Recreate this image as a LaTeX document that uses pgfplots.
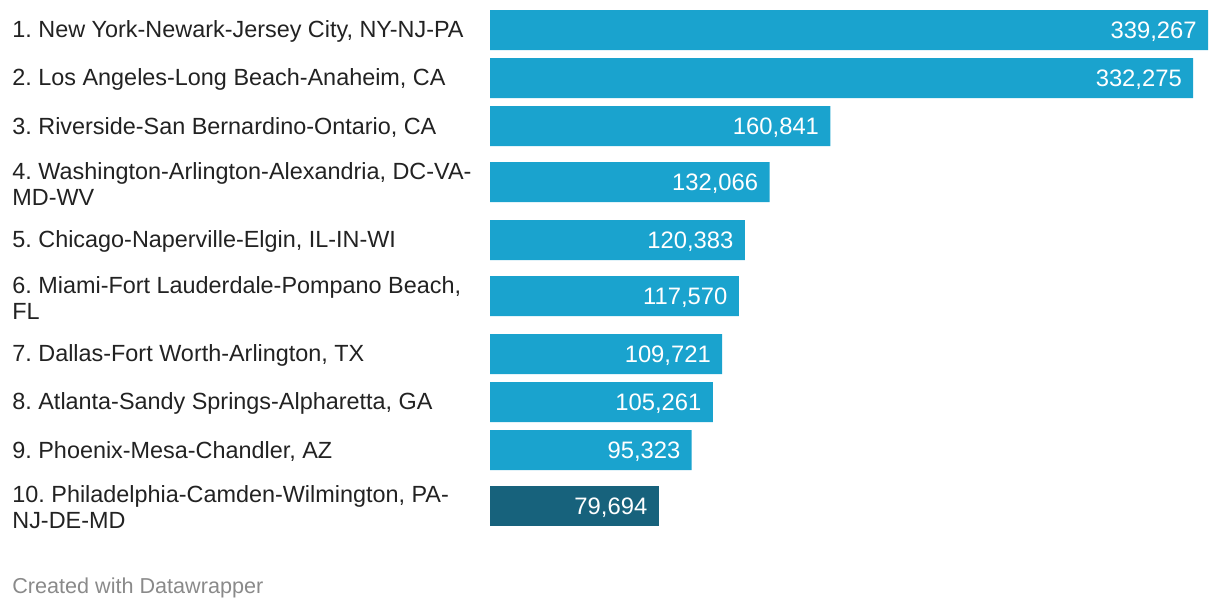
\documentclass[border=0pt]{standalone}
\usepackage{pgfplots}
\pgfplotsset{compat=1.18}
\usepackage{fontspec}
\setmainfont{Liberation Sans}
\frenchspacing

\definecolor{barblue}{HTML}{1AA3CE}
\definecolor{bardark}{HTML}{17627C}
\definecolor{labeltext}{HTML}{222222}
\definecolor{foot}{HTML}{8A8A8A}

\begin{document}
\begin{tikzpicture}
\useasboundingbox (0pt,0pt) rectangle (610pt,306pt);
\begin{axis}[
    at={(245pt,306pt)}, anchor=north west,
    scale only axis,
    width=359pt, height=306pt,
    xmin=0, xmax=339267,
    ymin=0, ymax=612, y dir=reverse,
    axis line style={draw=none},
    major tick style={draw=none},
    xtick=\empty,
    ytick={30,78,126,182,240,296,354,402,450,506},
    yticklabels={
        {1. New York-Newark-Jersey City, NY-NJ-PA},
        {2. Los Angeles-Long Beach-Anaheim, CA},
        {3. Riverside-San Bernardino-Ontario, CA},
        {4. Washington-Arlington-Alexandria, DC-VA-\\MD-WV},
        {5. Chicago-Naperville-Elgin, IL-IN-WI},
        {6. Miami-Fort Lauderdale-Pompano Beach,\\FL},
        {7. Dallas-Fort Worth-Arlington, TX},
        {8. Atlanta-Sandy Springs-Alpharetta, GA},
        {9. Phoenix-Mesa-Chandler, AZ},
        {10. Philadelphia-Camden-Wilmington, PA-\\NJ-DE-MD}},
    yticklabel style={anchor=west, xshift=-239pt, yshift=-0.8pt, align=left, inner sep=0pt,
        text=labeltext, font=\fontsize{11.7}{13}\selectfont},
    bar width=20pt,
    point meta=x,
    nodes near coords={\pgfmathprintnumber[fixed,precision=0,1000 sep={,},assume math mode=true]{\pgfplotspointmeta}},
    nodes near coords style={anchor=east, xshift=-5.5pt, yshift=-0.8pt, inner sep=0pt,
        text=white, font=\fontsize{11.9}{13}\selectfont},
    clip=false,
]
% top nine areas
\addplot[xbar, bar shift=0pt, fill=barblue, draw=none] coordinates {
    (339267,30) (332275,78) (160841,126) (132066,182) (120383,240)
    (117570,296) (109721,354) (105261,402) (95323,450)
};
% highlighted: Philadelphia
\addplot[xbar, bar shift=0pt, fill=bardark, draw=none] coordinates {
    (79694,506)
};
\end{axis}
\node[anchor=base west, inner sep=0pt, text=foot, font=\fontsize{10.8}{13}\selectfont]
    at (6pt,9.5pt) {Created with Datawrapper};
\end{tikzpicture}
\end{document}
